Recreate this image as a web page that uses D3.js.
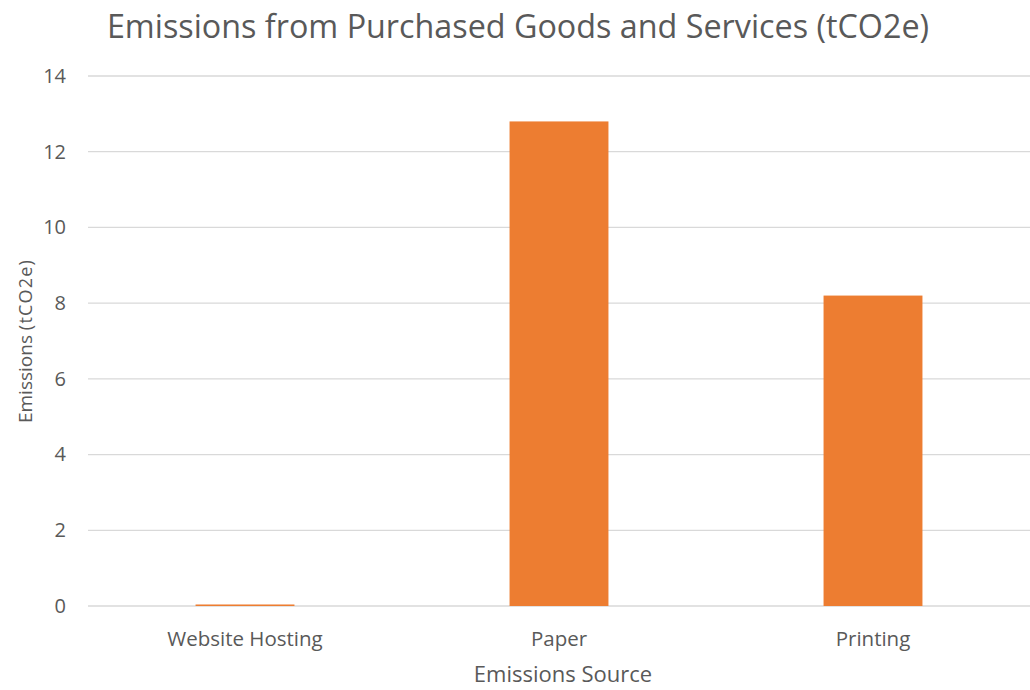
<!DOCTYPE html>
<html>
<head>
<meta charset="utf-8">
<script src="https://cdn.jsdelivr.net/npm/d3@7"></script>
<style>
	body { margin: 0; background: #fff; }
	text { font-family: "Open Sans", sans-serif; fill: #595959; }
</style>
</head>
<body>
<div id="chart"></div>
<script>

	// data
	var categories = ["Website Hosting", "Paper", "Printing"];
	var emissions = [0.04, 12.8, 8.2];
	var yTicks = [0, 2, 4, 6, 8, 10, 12, 14];

	// set the specs
	var width = 1030;
	var height = 690;
	var marginLeft = 88;
	var marginRight = 0;
	var marginTop = 76;
	var marginBottom = 84;

	var svg = d3.select("#chart")
		.append("svg")
		.attr("width", width)
		.attr("height", height);

	// scales
	var xScale = d3.scaleBand()
		.domain(categories)
		.range([marginLeft, width - marginRight])
		.paddingInner(0.685)
		.paddingOuter(0.3425);

	var yScale = d3.scaleLinear()
		.domain([0, 14])
		.range([height - marginBottom, marginTop]);

	// gridlines
	svg.append("g")
		.selectAll("line")
		.data(yTicks)
		.enter()
		.append("line")
		.attr("x1", marginLeft)
		.attr("x2", width - marginRight)
		.attr("y1", function(d){ return yScale(d); })
		.attr("y2", function(d){ return yScale(d); })
		.attr("stroke", "#d9d9d9")
		.attr("stroke-width", 1.3);

	// y axis
	var yAxis = d3.axisLeft(yScale)
		.tickValues(yTicks)
		.tickSize(0)
		.tickPadding(22);

	var gy = svg.append("g")
		.attr("transform", "translate(" + marginLeft + ",0)")
		.call(yAxis);
	gy.select(".domain").remove();
	gy.selectAll("text")
		.style("font-size", "20px")
		.attr("fill", "#595959");

	// bars
	svg.selectAll("rect.bar")
		.data(emissions)
		.enter()
		.append("rect")
		.attr("class", "bar")
		.attr("x", function(d, i){ return xScale(categories[i]); })
		.attr("width", xScale.bandwidth())
		.attr("y", function(d){ return yScale(d); })
		.attr("height", function(d){ return yScale(0) - yScale(d); })
		.attr("fill", "#ed7d31");

	// x axis
	var xAxis = d3.axisBottom(xScale)
		.tickSize(0)
		.tickPadding(25);

	var gx = svg.append("g")
		.attr("transform", "translate(0," + (height - marginBottom) + ")")
		.call(xAxis);
	gx.select(".domain").remove();
	gx.selectAll("text")
		.style("font-size", "20.5px")
		.attr("fill", "#595959");

	// title
	svg.append("text")
		.attr("x", 518)
		.attr("y", 38)
		.attr("text-anchor", "middle")
		.style("font-size", "32.3px")
		.text("Emissions from Purchased Goods and Services (tCO2e)");

	// axis titles
	svg.append("text")
		.attr("x", 563)
		.attr("y", 682)
		.attr("text-anchor", "middle")
		.style("font-size", "22px")
		.text("Emissions Source");

	var yt = svg.append("text")
		.attr("transform", "translate(32," + yScale(7) + ") rotate(-90)")
		.attr("text-anchor", "middle");
	yt.append("tspan")
		.style("font-size", "19px")
		.text("Emissions ");
	yt.append("tspan")
		.style("font-size", "18px")
		.style("letter-spacing", "1.2px")
		.text("(tCO2e)");

</script>
</body>
</html>
